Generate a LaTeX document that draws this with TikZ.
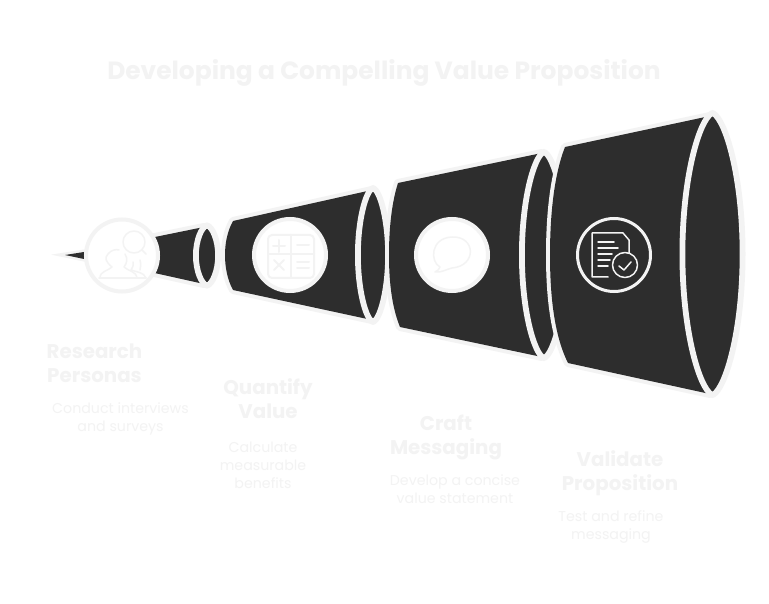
\documentclass[tikz,border=0pt]{standalone}
\usepackage{fontspec}
\setmainfont{Poppins}[BoldFont={Poppins Bold}]
\definecolor{inkdark}{HTML}{2D2D2D}
\definecolor{chalk}{HTML}{F3F3F3}
\tikzset{
  x=1pt,y=-1pt,
  body/.style={fill=inkdark,preaction={draw=chalk,line width=8pt,line join=round}},
  rim/.style={fill=inkdark,draw=chalk,line width=3.6pt,line join=round},
  rimhalo/.style={draw=chalk,line width=8pt,line join=round},
  disc/.style={circle,draw=chalk,line width=4pt,fill=white,minimum size=72pt,inner sep=0pt},
  discdark/.style={circle,draw=chalk,line width=3pt,fill=none,minimum size=73pt,inner sep=0pt},
  glyph/.style={draw=chalk,line width=2pt,line cap=round,line join=round},
  fineglyph/.style={draw=chalk,line width=1.5pt,line cap=round,line join=round},
  heading/.style={text=chalk,font=\bfseries\fontsize{19.8}{24}\selectfont,align=center,inner sep=0pt},
  detail/.style={text=chalk,font=\fontsize{14.2}{18}\selectfont,align=center,inner sep=0pt}
}
% Rim of a segment: a slightly pointed ellipse, centre (#2,#3), radii #4 and #5
\newcommand{\lensat}[5][rim]{%
  \begin{scope}[shift={(#2,#3)},xscale=#4,yscale=#5]
    \path[rimhalo] (0,-1) .. controls (0.42,-0.95) and (1,-0.55) .. (1,0)
      .. controls (1,0.55) and (0.42,0.95) .. (0,1)
      .. controls (-0.42,0.95) and (-1,0.55) .. (-1,0)
      .. controls (-1,-0.55) and (-0.42,-0.95) .. (0,-1) -- cycle;
    \path[#1] (0,-1) .. controls (0.42,-0.95) and (1,-0.55) .. (1,0)
      .. controls (1,0.55) and (0.42,0.95) .. (0,1)
      .. controls (-0.42,0.95) and (-1,0.55) .. (-1,0)
      .. controls (-1,-0.55) and (-0.42,-0.95) .. (0,-1) -- cycle;
  \end{scope}}
\begin{document}
\begin{tikzpicture}
\useasboundingbox[fill=white] (0,0) rectangle (769,604);

% funnel tip
\path[fill=inkdark,preaction={draw=chalk,line width=5pt,line join=miter}]
  (65,255) -- (84,252) -- (84,259) -- cycle;

% first segment
\path[body] (150,238) -- (204,227) -- (204,284) -- (150,272) -- cycle;
\lensat{207}{255.5}{10}{29}

% second segment
\path[body] (233,221) .. controls (227,232) and (225,244) .. (225,255)
  .. controls (225,266) and (227,279) .. (233,290)
  -- (372,320) -- (372,190) -- cycle;
\lensat{373}{255}{14}{66}

% third segment
\path[body] (398,183) .. controls (391,205) and (389,232) .. (389,255)
  .. controls (389,278) and (391,305) .. (400,327)
  -- (542,357) -- (542,153) -- cycle;
\lensat{544}{255}{21}{102}

% fourth segment
\path[body] (565,147) .. controls (554,175) and (550,215) .. (550,255)
  .. controls (550,295) and (554,335) .. (568,363)
  -- (710,394) -- (710,116) -- cycle;
\lensat{712.5}{254}{29}{140}

% step discs
\node[disc] (d1) at (122,255.5) {};
\node[disc] (d2) at (290,255) {};
\node[disc] (d3) at (452,255) {};
\node[discdark] (d4) at (614,255) {};

% person with magnifier
\draw[fineglyph] (134,242) circle (11);
\draw[fineglyph] (142,250) -- (146,254);
\draw[fineglyph] (99,278) -- (146,278);
\draw[fineglyph] (100,278) .. controls (100,271) and (108,271) .. (112,267)
  .. controls (106,262) and (104,258) .. (108,254)
  .. controls (111,250) and (116,249) .. (119,250);
\draw[fineglyph] (137,278) .. controls (136,271) and (128,271) .. (124,267)
  .. controls (127,263) and (128,259) .. (125,254);
\draw[fineglyph] (133,262) .. controls (134,266) and (132,268) .. (131,270)
  .. controls (136,272) and (144,272) .. (146,278);
\draw[fineglyph] (140,260) .. controls (141,264) and (141,267) .. (140,270);

% calculator
\draw[glyph,rounded corners=4pt] (268,235) rectangle (314,278);
\draw[glyph] (291,235) -- (291,278) (268,254) -- (314,254);
\draw[glyph] (273,246) -- (285,246) (279,240) -- (279,252);
\draw[glyph] (297,245) -- (309,245);
\draw[glyph] (274,260) -- (284,270) (284,260) -- (274,270);
\draw[glyph] (297,262) -- (309,262) (297,268) -- (309,268);

% speech bubble
\draw[fineglyph] (440,267) .. controls (430,262) and (430,238) .. (452,237)
  .. controls (476,236) and (477,266) .. (452,268)
  .. controls (447,269) and (441,273) .. (435,272)
  .. controls (438,271) and (439,269) .. (440,267) -- cycle;

% document with check mark
\draw[fineglyph] (608,277) -- (592,277) -- (592,233) -- (623,233) -- (629,240) -- (629,253);
\draw[fineglyph] (598,242) -- (614,242) (598,248) -- (618,248) (598,254) -- (612,254)
  (598,260) -- (610,260) (598,266) -- (608,266);
\draw[fineglyph] (625,265) circle (12.5);
\draw[fineglyph] (619,266) -- (624,270) -- (631,262);

% title
\node[text=chalk,font=\bfseries\fontsize{24.9}{30}\selectfont,inner sep=0pt] (title) at (384,73)
  {Developing a Compelling Value Proposition};

% step captions
\node[heading] (h1) at (94.5,363.5) {Research\\Personas};
\node[detail] (t1) at (120.5,419) {Conduct interviews\\and surveys};
\node[heading] (h2) at (268,399) {Quantify\\Value};
\node[detail] (t2) at (263,465) {Calculate\\measurable\\benefits};
\node[heading] (h3) at (446,437.5) {Craft\\Messaging};
\node[detail] (t3) at (455,489) {Develop a concise\\value statement};
\node[heading] (h4) at (620,473.5) {Validate\\Proposition};
\node[detail] (t4) at (611,527) {Test and refine\\messaging};
\end{tikzpicture}
\end{document}
